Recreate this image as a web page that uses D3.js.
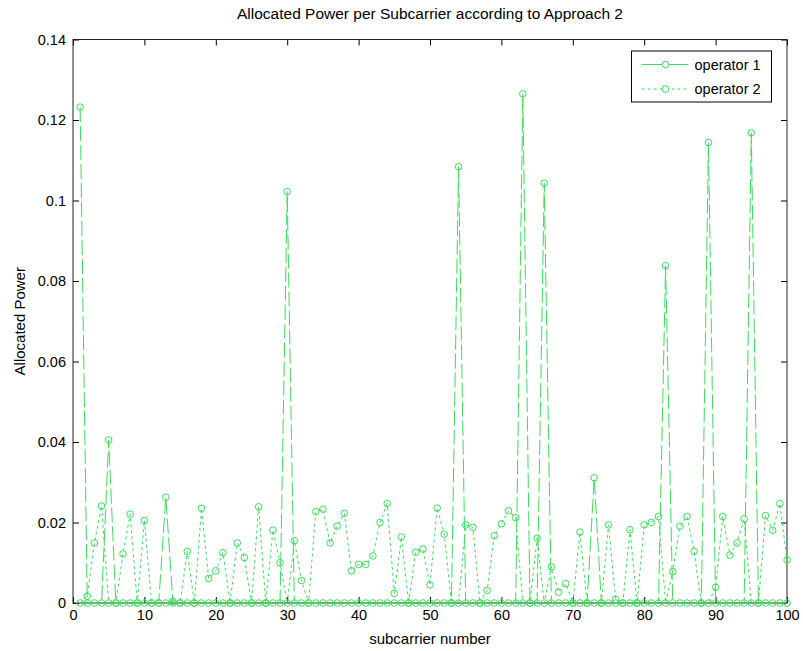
<!DOCTYPE html>
<html>
<head>
<meta charset="utf-8">
<script src="https://cdn.jsdelivr.net/npm/d3@7"></script>
<style>
  body { margin: 0; background: #fff; }
  text { font-family: "Liberation Sans", Arial, sans-serif; fill: #000; }
</style>
</head>
<body>
<div id="chart"></div>
<script>
// subcarrier index 1..100
var subcarriers = d3.range(1, 101);

var operator1 = [
    0.1232, 0, 0, 0, 0.0405, 0, 0, 0, 0, 0,
    0, 0, 0.0263, 0, 0, 0, 0, 0, 0, 0,
    0, 0, 0, 0, 0, 0, 0, 0, 0, 0.1022,
    0, 0, 0, 0, 0, 0, 0, 0, 0, 0,
    0, 0, 0, 0, 0, 0, 0, 0, 0, 0,
    0, 0, 0, 0.1084, 0, 0, 0, 0, 0, 0,
    0, 0, 0.1265, 0, 0, 0.1043, 0, 0, 0, 0,
    0, 0, 0.0311, 0, 0, 0, 0, 0, 0, 0,
    0, 0, 0.0838, 0, 0, 0, 0, 0, 0.1144, 0,
    0, 0, 0, 0, 0.1168, 0, 0, 0, 0, 0
];

var operator2 = [
    0, 0.0017, 0.0149, 0.0241, 0, 0, 0.0122, 0.0221, 0, 0.0205,
    0, 0, 0, 0.0004, 0, 0.0128, 0, 0.0235, 0.0061, 0.0080,
    0.0125, 0, 0.0149, 0.0113, 0, 0.0239, 0, 0.0181, 0.0100, 0,
    0.0155, 0.0056, 0, 0.0227, 0.0233, 0.0149, 0.0191, 0.0223, 0.0080, 0.0096,
    0.0096, 0.0117, 0.0200, 0.0247, 0.0024, 0.0164, 0, 0.0126, 0.0134, 0.0045,
    0.0236, 0.0171, 0, 0, 0.0194, 0.0188, 0, 0.0031, 0.0167, 0.0197,
    0.0229, 0.0212, 0, 0, 0.0161, 0, 0.0090, 0.0027, 0.0048, 0,
    0.0176, 0, 0, 0, 0.0194, 0.0009, 0, 0.0182, 0, 0.0194,
    0.0200, 0.0215, 0, 0.0078, 0.0191, 0.0215, 0.0128, 0, 0, 0.0039,
    0.0215, 0.0119, 0.0149, 0.0209, 0, 0, 0.0217, 0.0181, 0.0247, 0.0107
];

var xTicks = [0, 10, 20, 30, 40, 50, 60, 70, 80, 90, 100];
var yTicks = [0, 0.02, 0.04, 0.06, 0.08, 0.1, 0.12, 0.14];
var seriesNames = ["operator 1", "operator 2"];

var green = "#3cdc5a";

// dimensions
var W = 803, H = 651;
var margin = { top: 39.5, right: 16, bottom: 48, left: 73 },
    width = W - margin.left - margin.right,
    height = H - margin.top - margin.bottom;

var root = d3.select("#chart")
    .append("svg")
    .attr("width", W)
    .attr("height", H);

var svg = root.append("g")
    .attr("transform", "translate(" + margin.left + "," + margin.top + ")");

var x = d3.scaleLinear().domain([0, 100]).range([0, width]);
var y = d3.scaleLinear().domain([0, 0.14]).range([height, 0]);

// axes, ticks inside like matlab
function styleAxis(g) {
    g.select(".domain").remove();
    g.selectAll("line").attr("stroke", "#000");
    g.selectAll("text").style("font-size", "14.5px");
}

svg.append("g")
    .attr("transform", "translate(0," + height + ")")
    .call(d3.axisBottom(x).tickValues(xTicks).tickSize(-6).tickPadding(7).tickFormat(d3.format("d")))
    .call(styleAxis);

svg.append("g")
    .call(d3.axisTop(x).tickValues(xTicks).tickSize(-6).tickFormat(""))
    .call(styleAxis);

svg.append("g")
    .call(d3.axisLeft(y).tickValues(yTicks).tickSize(-6).tickPadding(7)
        .tickFormat(function (d) { return d === 0 ? "0" : d3.format(".2~f")(d); }))
    .call(styleAxis);

svg.append("g")
    .attr("transform", "translate(" + width + ",0)")
    .call(d3.axisRight(y).tickValues(yTicks).tickSize(-6).tickFormat(""))
    .call(styleAxis);

svg.append("rect")
    .attr("width", width)
    .attr("height", height)
    .attr("fill", "none")
    .attr("stroke", "#222")
    .attr("stroke-width", 1);

// lines
var line = d3.line()
    .x(function (d, i) { return x(subcarriers[i]); })
    .y(function (d) { return y(d); });

function drawSeries(values, dash) {
    svg.append("path")
        .datum(values)
        .attr("fill", "none")
        .attr("stroke", green)
        .attr("stroke-width", 1)
        .attr("stroke-dasharray", dash)
        .attr("d", line);

    svg.append("g")
        .selectAll("circle")
        .data(values)
        .enter()
        .append("circle")
        .attr("cx", function (d, i) { return x(subcarriers[i]); })
        .attr("cy", function (d) { return y(d); })
        .attr("r", 3.3)
        .attr("fill", "none")
        .attr("stroke", green)
        .attr("stroke-width", 1);
}

drawSeries(operator1, "15,4");
drawSeries(operator2, "3,3");

// legend
var lg = svg.append("g")
    .attr("transform", "translate(" + (631.5 - margin.left) + "," + (51 - margin.top) + ")");

lg.append("rect")
    .attr("width", 140)
    .attr("height", 51)
    .attr("fill", "#fff")
    .attr("stroke", "#000");

seriesNames.forEach(function (name, i) {
    var yy = 13.5 + i * 24.5;
    lg.append("line")
        .attr("x1", 10).attr("x2", 57)
        .attr("y1", yy).attr("y2", yy)
        .attr("stroke", green)
        .attr("stroke-dasharray", i === 0 ? null : "3,3");
    lg.append("circle")
        .attr("cx", 34).attr("cy", yy).attr("r", 3.3)
        .attr("fill", "#fff").attr("stroke", green);
    lg.append("text")
        .attr("x", 63).attr("y", yy + 5)
        .style("font-size", "14.5px")
        .text(name);
});

// title and labels
root.append("text")
    .attr("x", margin.left + width / 2)
    .attr("y", 19)
    .attr("text-anchor", "middle")
    .style("font-size", "15.5px")
    .text("Allocated Power per Subcarrier according to Approach 2");

root.append("text")
    .attr("x", margin.left + width / 2)
    .attr("y", 644)
    .attr("text-anchor", "middle")
    .style("font-size", "15px")
    .text("subcarrier number");

root.append("text")
    .attr("transform", "translate(25," + (margin.top + height / 2) + ") rotate(-90)")
    .attr("text-anchor", "middle")
    .style("font-size", "15px")
    .text("Allocated Power");
</script>
</body>
</html>
